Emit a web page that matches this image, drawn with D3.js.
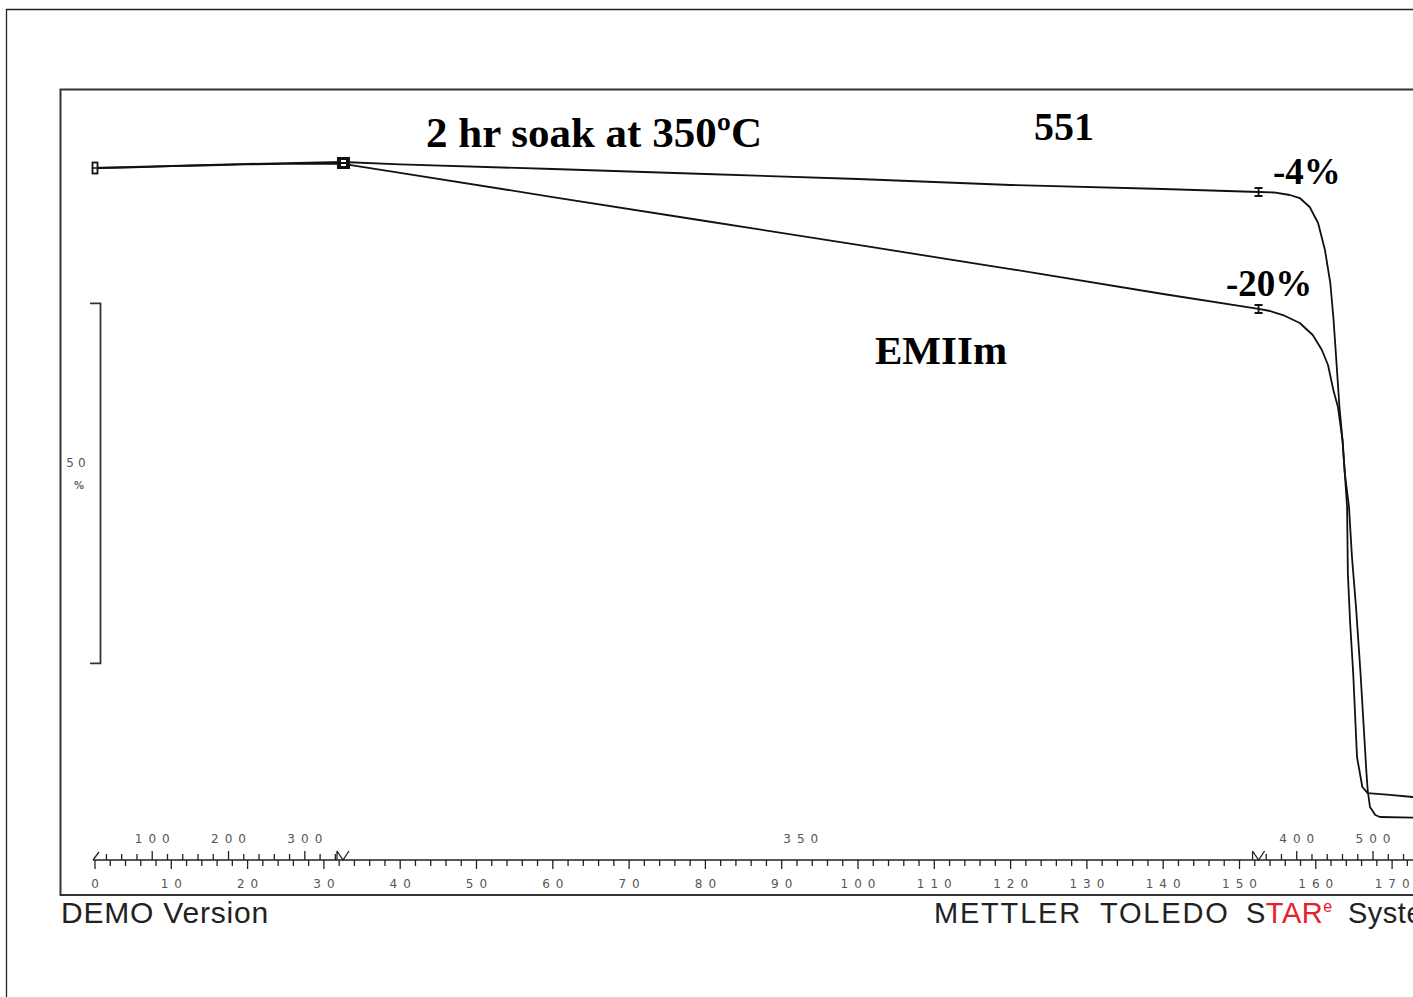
<!DOCTYPE html>
<html><head><meta charset="utf-8">
<script src="https://cdn.jsdelivr.net/npm/d3@7"></script>
<style>html,body{margin:0;padding:0;background:#fff;} svg{display:block;}</style>
</head><body>
<svg id="chart" width="1413" height="997"></svg>
<script>
// ---- data (time in min, weight in %) ----
const curve551Time = [0,5,10,15,20,25,32.5,40,60,80,100,120,140,152.5,154.5,156.6,157.9,159.2,160.3,161.2,161.9,162.3,162.6,162.8,163.1,163.5,163.8,164.1,164.2,164.5,164.9,165.4,166.1,166.8,169.7,172.7,176];
const curve551Weight = [100,100.14,100.28,100.42,100.56,100.69,100.83,100.49,99.86,99.17,98.47,97.64,97.08,96.67,96.6,96.25,95.83,94.58,92.36,88.61,84.03,79.31,74.72,71.53,66.81,62.22,57.64,52.92,43.75,36.81,29.86,18.19,14.03,13.19,12.92,12.64,12.5];
const curveEMIImTime = [0,5,10,15,20,25,32.5,40,60,80,100,120,140,152.5,154.0,155.7,157.9,159.6,160.8,161.6,162.3,162.9,163.5,163.8,164.35,164.74,165.27,165.86,166.25,166.64,166.8,167.1,167.8,168.4,176];
const curveEMIImWeight = [100,100.1,100.25,100.38,100.5,100.58,100.56,99.31,95.97,92.64,89.31,85.97,82.5,80.42,80.14,79.58,78.47,76.81,74.72,72.64,69.17,66.81,62.22,57.64,52.92,45.97,39.03,29.86,22.92,15.97,13.61,11.25,10.14,9.86,9.72];

// temperature program segments
const segStartTime = [0, 32.5, 152.5];
const segEndTime = [32.5, 152.5, 180];
const segStartTemp = [25, 350, 350];
const segRate = [10, 0, 10];
const tempLabelsSeg1 = [100, 200, 300];
const tempLabelsSeg2 = [350];
const tempLabelsSeg3 = [400, 500];

const minuteLabels = d3.range(0, 171, 10);
const minuteTicks = d3.range(0, 181, 2);
const markerTimes = [152.5];
const scaleBarPct = 50;
const scaleBarTop = 81.2;

const titleText = "2 hr soak at 350ºC";

// ---- scales ----
const svg = d3.select("#chart");
const x = d3.scaleLinear().domain([0, 170]).range([95, 95 + 7.63 * 170]);
const y = d3.scaleLinear().domain([0, 100]).range([888, 168]);

svg.append("rect").attr("width", 1413).attr("height", 997).attr("fill", "#fff");

// outer frame
svg.append("path").attr("d", "M6.5,997 V9.5 H1413").attr("fill", "none").attr("stroke", "#222").attr("stroke-width", 1.3);
// inner frame
svg.append("path").attr("d", "M1413,89.5 H60.5 V895 H1413").attr("fill", "none").attr("stroke", "#333").attr("stroke-width", 2);

// ---- time axis ----
const axisY = 860;
const ax = svg.append("g");
ax.append("line").attr("x1", 93).attr("x2", 1413).attr("y1", axisY).attr("y2", axisY).attr("stroke", "#222").attr("stroke-width", 1.6);
ax.selectAll("line.mt").data(minuteTicks).join("line")
  .attr("x1", d => x(d)).attr("x2", d => x(d))
  .attr("y1", axisY).attr("y2", d => axisY + (d % 10 === 0 ? 9 : 6))
  .attr("stroke", "#222").attr("stroke-width", 1.3);
const lblLS = 6;
ax.selectAll("text.ml").data(minuteLabels).join("text")
  .attr("x", d => x(d) + lblLS / 2).attr("y", 888)
  .attr("text-anchor", "middle")
  .attr("font-family", "DejaVu Sans").attr("font-size", 12).attr("letter-spacing", lblLS)
  .attr("fill", "#555").text(d => d);

// temperature ticks (up) for heating segments
function timeAt(T, s) { return segStartTime[s] + (T - segStartTemp[s]) / segRate[s]; }
[0, 2].forEach(s => {
  const endT = segStartTemp[s] + segRate[s] * (segEndTime[s] - segStartTime[s]);
  const temps = d3.range(Math.ceil((segStartTemp[s] + 1) / 20) * 20, endT, 20);
  ax.selectAll("line.tt" + s).data(temps).join("line")
    .attr("x1", d => x(timeAt(d, s))).attr("x2", d => x(timeAt(d, s)))
    .attr("y1", axisY).attr("y2", d => axisY - (d % 100 === 0 ? 9 : 6))
    .attr("stroke", "#222").attr("stroke-width", 1.3);
});
const tempLbls = tempLabelsSeg1.map(T => ({T, t: timeAt(T, 0)}))
  .concat(tempLabelsSeg2.map(T => ({T, t: (segStartTime[1] + segEndTime[1]) / 2})))
  .concat(tempLabelsSeg3.map(T => ({T, t: timeAt(T, 2)})));
ax.selectAll("text.tl").data(tempLbls).join("text")
  .attr("x", d => x(d.t) + lblLS / 2).attr("y", 843)
  .attr("text-anchor", "middle")
  .attr("font-family", "DejaVu Sans").attr("font-size", 12).attr("letter-spacing", lblLS)
  .attr("fill", "#555").text(d => d.T);
// segment boundary markers
ax.append("path").attr("d", `M${x(0) - 2},${axisY} L${x(0) + 4},${axisY - 8}`).attr("stroke", "#222").attr("fill", "none").attr("stroke-width", 1.3);
[segStartTime[1], segStartTime[2]].forEach(t => {
  const px = x(t);
  ax.append("path").attr("d", `M${px - 6},${axisY - 9} V${axisY} M${px - 6},${axisY - 9} L${px},${axisY} L${px + 6},${axisY - 9}`)
    .attr("stroke", "#222").attr("fill", "none").attr("stroke-width", 1.3);
});

// ---- scale bar ----
const sb = svg.append("g");
sb.append("path").attr("d", `M90,${y(scaleBarTop)} H100.5 V${y(scaleBarTop - scaleBarPct)} H90`)
  .attr("fill", "none").attr("stroke", "#333").attr("stroke-width", 1.8);
sb.append("text").attr("x", 76 + 2).attr("y", 467).attr("text-anchor", "middle")
  .attr("font-family", "DejaVu Sans").attr("font-size", 12).attr("letter-spacing", 4).attr("fill", "#555").text(scaleBarPct);
sb.append("text").attr("x", 79).attr("y", 489).attr("text-anchor", "middle")
  .attr("font-family", "DejaVu Sans").attr("font-size", 10).attr("font-weight", "bold").attr("fill", "#666").text("%");

// ---- curves ----
const line = d3.line().x(d => x(d[0])).y(d => y(d[1]));
const d551 = curve551Time.map((t, i) => [t, curve551Weight[i]]);
const dEMI = curveEMIImTime.map((t, i) => [t, curveEMIImWeight[i]]);
[dEMI, d551].forEach(d => {
  svg.append("path").datum(d).attr("d", line).attr("fill", "none")
    .attr("stroke", "#111").attr("stroke-width", 1.8).attr("stroke-linejoin", "round");
});

// start marker
svg.append("rect").attr("x", x(0) - 2.5).attr("y", y(100) - 5.5).attr("width", 5).attr("height", 11)
  .attr("fill", "#fff").attr("stroke", "#111").attr("stroke-width", 1.8);
svg.append("line").attr("x1", x(0) - 2.5).attr("x2", x(0) + 2.5).attr("y1", y(100)).attr("y2", y(100)).attr("stroke", "#111").attr("stroke-width", 1.5);
// end of heating marker (H)
const hx = x(segStartTime[1]), hy = (y(curve551Weight[6]) + y(curveEMIImWeight[6])) / 2;
svg.append("rect").attr("x", hx - 6).attr("y", hy - 6).attr("width", 13).attr("height", 12).attr("fill", "#111");
svg.append("rect").attr("x", hx - 2).attr("y", hy - 3).attr("width", 5).attr("height", 2).attr("fill", "#fff");
svg.append("rect").attr("x", hx - 2).attr("y", hy + 1).attr("width", 5).attr("height", 2).attr("fill", "#fff");
// I-bar markers at end of isothermal
markerTimes.forEach(t => {
  [[curve551Time, curve551Weight], [curveEMIImTime, curveEMIImWeight]].forEach(([ts, ws]) => {
    const i = ts.indexOf(t);
    const px = x(t), py = y(ws[i]);
    svg.append("path").attr("d", `M${px - 4},${py - 4} H${px + 4} M${px},${py - 4} V${py + 4} M${px - 4},${py + 4} H${px + 4}`)
      .attr("stroke", "#111").attr("stroke-width", 1.8).attr("fill", "none");
  });
});

// ---- annotations ----
const serif = "'Liberation Serif','Times New Roman',serif";
function ann(txt, px, py, size) {
  svg.append("text").attr("x", px).attr("y", py).attr("font-family", serif)
    .attr("font-weight", "bold").attr("font-size", size).attr("fill", "#000").text(txt);
}
ann(titleText, 426, 147, 43);
ann("551", 1034, 140, 40);
ann("-4%", 1273, 184, 37);
ann("-20%", 1226, 296, 37);
ann("EMIIm", 875, 364, 41);

// ---- footer ----
const sans = "'Liberation Sans', Arial, sans-serif";
svg.append("text").attr("x", 61).attr("y", 923).attr("font-family", sans).attr("font-size", 30)
  .attr("letter-spacing", 0.8).attr("fill", "#222").text("DEMO Version");
const ft = svg.append("text").attr("y", 923).attr("font-family", sans).attr("font-size", 29).attr("fill", "#222").attr("letter-spacing", 1.8);
ft.append("tspan").attr("x", 934).text("METTLER");
ft.append("tspan").attr("x", 1100).text("TOLEDO");
ft.append("tspan").attr("x", 1246).attr("letter-spacing", 0.5).text("S");
ft.append("tspan").attr("fill", "#e8202a").attr("letter-spacing", 0.5).text("TAR");
ft.append("tspan").attr("fill", "#e8202a").attr("font-size", 16).attr("dy", -11).attr("letter-spacing", 0).text("e");
ft.append("tspan").attr("x", 1348).attr("dy", 11).attr("letter-spacing", 0.5).text("System");
</script>
</body></html>
